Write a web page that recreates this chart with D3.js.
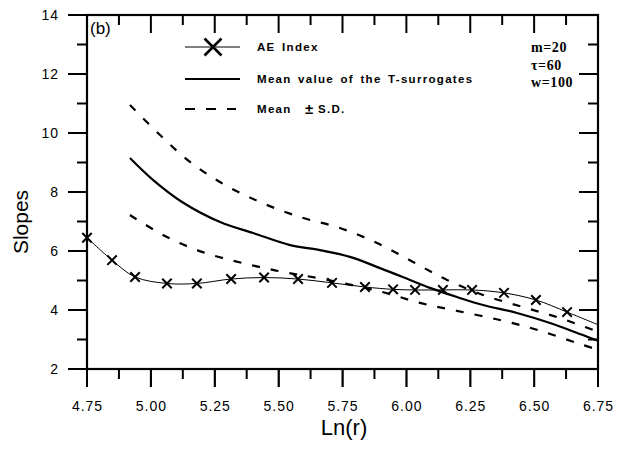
<!DOCTYPE html>
<html>
<head>
<meta charset="utf-8">
<script src="https://cdn.jsdelivr.net/npm/d3@7"></script>
<style>
    body { margin: 0; background: #fff; }
    .axis text { font-family: Arial, "Liberation Sans", sans-serif; font-size: 14px; letter-spacing: 1px; fill: #000; }
    .axis path.domain { display: none; }
    .legend text { font-family: Arial, "Liberation Sans", sans-serif; font-size: 11.5px; letter-spacing: 1.3px; word-spacing: 2px; font-weight: 600; }
    .params text { font-family: "Liberation Serif", "Times New Roman", serif; font-size: 14px; letter-spacing: 0.6px; font-weight: 600; }
</style>
</head>
<body>
<div id="chart" style="width:632px;height:449px"></div>
<script>
// AE Index (x markers) - last point is where the thin line ends, no marker there
const aeX = [4.75, 4.848, 4.938, 5.063, 5.18, 5.314, 5.443, 5.576, 5.709, 5.838, 5.948, 6.034, 6.143, 6.257, 6.382, 6.507, 6.629, 6.75]
const aeY = [6.45, 5.69, 5.12, 4.9, 4.9, 5.05, 5.1, 5.05, 4.92, 4.78, 4.7, 4.68, 4.68, 4.68, 4.58, 4.34, 3.93, 3.5]

// mean value of the T-surrogates
const meanX = [4.918, 5.008, 5.122, 5.271, 5.4, 5.545, 5.662, 5.779, 5.897, 6.014, 6.092, 6.198, 6.3, 6.433, 6.562, 6.691, 6.75]
const meanY = [9.15, 8.41, 7.66, 6.98, 6.61, 6.2, 6.03, 5.8, 5.42, 5.02, 4.75, 4.44, 4.17, 3.9, 3.56, 3.15, 2.96]

// mean + S.D.
const upperX = [4.918, 5.036, 5.153, 5.29, 5.435, 5.584, 5.74, 5.885, 6.026, 6.159, 6.3, 6.456, 6.601, 6.75]
const upperY = [10.95, 9.93, 9.02, 8.24, 7.63, 7.15, 6.78, 6.27, 5.63, 5.02, 4.51, 4.1, 3.73, 3.26]

// mean - S.D.
const lowerX = [4.918, 5.055, 5.2, 5.36, 5.517, 5.674, 5.905, 6.053, 6.198, 6.366, 6.515, 6.668, 6.75]
const lowerY = [7.22, 6.51, 5.97, 5.59, 5.29, 5.05, 4.61, 4.24, 3.97, 3.66, 3.32, 2.88, 2.65]

const xMajorTicks = [4.75, 5.00, 5.25, 5.50, 5.75, 6.00, 6.25, 6.50, 6.75]
const xMinorTicks = [4.875, 5.125, 5.375, 5.625, 5.875, 6.125, 6.375, 6.625]
const yMajorTicks = [2, 4, 6, 8, 10, 12, 14]
const yMinorTicks = [3, 5, 7, 9, 11, 13]

const legendLabels = ["AE Index", "Mean value of the T-surrogates", "Mean"]
const paramLabels = ["m=20", "\u03c4=60", "w=100"]

class SlopeChart {
    constructor(parentElement) {
        this.parentElement = parentElement
        this.initVis()
    }

    initVis() {
        let vis = this

        vis.margin = {top: 15, right: 34, bottom: 80, left: 87}
        vis.width = 632 - vis.margin.left - vis.margin.right
        vis.height = 449 - vis.margin.top - vis.margin.bottom

        vis.root = d3.select("#" + vis.parentElement).append("svg")
            .attr("width", 632)
            .attr("height", 449)
        vis.svg = vis.root.append("g")
            .attr("transform", `translate(${vis.margin.left}, ${vis.margin.top})`)

        vis.x = d3.scaleLinear().domain([4.75, 6.75]).range([0, vis.width])
        vis.y = d3.scaleLinear().domain([2, 14]).range([vis.height, 0])

        // tick labels from d3 axes
        vis.svg.append("g").attr("class", "axis")
            .attr("transform", `translate(0, ${vis.height})`)
            .call(d3.axisBottom(vis.x).tickValues(xMajorTicks).tickSize(18).tickPadding(14).tickFormat(d3.format(".2f")))
        vis.svg.append("g").attr("class", "axis")
            .call(d3.axisLeft(vis.y).tickValues(yMajorTicks).tickSize(19).tickPadding(9).tickFormat(d3.format("d")))

        // tick marks, drawn as thin filled rectangles
        // outward on bottom/left, inward on top/right
        let ticks = vis.svg.append("g").attr("class", "tick-marks").attr("fill", "#000")
        ;[[xMajorTicks, 18], [xMinorTicks, 10]].forEach(([vals, len]) => {
            vals.forEach(v => {
                ticks.append("rect").attr("x", vis.x(v) - 1).attr("y", vis.height).attr("width", 2).attr("height", len)
                ticks.append("rect").attr("x", vis.x(v) - 1).attr("y", 0).attr("width", 2).attr("height", len)
            })
        })
        ;[[yMajorTicks, 19], [yMinorTicks, 10]].forEach(([vals, len]) => {
            vals.forEach(v => {
                ticks.append("rect").attr("x", -len).attr("y", vis.y(v) - 1).attr("width", len).attr("height", 2)
                ticks.append("rect").attr("x", vis.width - len).attr("y", vis.y(v) - 1).attr("width", len).attr("height", 2)
            })
        })

        // frame
        vis.svg.append("rect")
            .attr("width", vis.width)
            .attr("height", vis.height)
            .attr("fill", "none")
            .attr("stroke", "#000")
            .attr("stroke-width", 2.2)

        // axis titles
        vis.root.append("text")
            .attr("x", 344).attr("y", 435)
            .attr("text-anchor", "middle")
            .attr("font-family", "Arial, 'Liberation Sans', sans-serif")
            .attr("font-size", 22)
            .text("Ln(r)")
        vis.root.append("text")
            .attr("transform", "translate(28, 222) rotate(-90)")
            .attr("text-anchor", "middle")
            .attr("font-family", "Arial, 'Liberation Sans', sans-serif")
            .attr("font-size", 21)
            .text("Slopes")

        vis.root.append("text")
            .attr("x", 90).attr("y", 34)
            .attr("font-family", "Arial, 'Liberation Sans', sans-serif")
            .attr("font-size", 17)
            .text("(b)")

        this.updateVis()
    }

    updateVis() {
        let vis = this

        let line = d3.line()
            .x(d => vis.x(d[0]))
            .y(d => vis.y(d[1]))
            .curve(d3.curveCatmullRom)

        let ae = d3.zip(aeX, aeY)
        let mean = d3.zip(meanX, meanY)
        let upper = d3.zip(upperX, upperY)
        let lower = d3.zip(lowerX, lowerY)

        vis.svg.append("path").datum(upper)
            .attr("fill", "none").attr("stroke", "#000").attr("stroke-width", 2.2)
            .attr("stroke-dasharray", "8,11")
            .attr("d", line)
        vis.svg.append("path").datum(lower)
            .attr("fill", "none").attr("stroke", "#000").attr("stroke-width", 2.2)
            .attr("stroke-dasharray", "8,11")
            .attr("d", line)
        vis.svg.append("path").datum(mean)
            .attr("fill", "none").attr("stroke", "#000").attr("stroke-width", 2.2)
            .attr("d", line)
        vis.svg.append("path").datum(ae)
            .attr("fill", "none").attr("stroke", "#000").attr("stroke-width", 1)
            .attr("d", line)

        let cross = d3.symbol().type(d3.symbolX).size(60)
        vis.svg.selectAll(".ae-marker")
            .data(ae.slice(0, -1))
            .enter().append("path")
            .attr("class", "ae-marker")
            .attr("transform", d => `translate(${vis.x(d[0])}, ${vis.y(d[1])})`)
            .attr("d", cross)
            .attr("fill", "none")
            .attr("stroke", "#000")
            .attr("stroke-width", 2)

        // legend
        let legend = vis.root.append("g").attr("class", "legend")
        let rowY = [47, 79, 109]
        legend.append("line").attr("x1", 185).attr("x2", 240).attr("y1", rowY[0]).attr("y2", rowY[0])
            .attr("stroke", "#000").attr("stroke-width", 1)
        legend.append("path")
            .attr("transform", `translate(213, ${rowY[0]})`)
            .attr("d", d3.symbol().type(d3.symbolX).size(190))
            .attr("fill", "none").attr("stroke", "#000").attr("stroke-width", 2.6)
        legend.append("line").attr("x1", 185).attr("x2", 240).attr("y1", rowY[1]).attr("y2", rowY[1])
            .attr("stroke", "#000").attr("stroke-width", 2)
        legend.append("line").attr("x1", 185).attr("x2", 236).attr("y1", rowY[2]).attr("y2", rowY[2])
            .attr("stroke", "#000").attr("stroke-width", 2)
            .attr("stroke-dasharray", "10,11")

        legend.selectAll(".legend-label")
            .data(legendLabels)
            .enter().append("text")
            .attr("class", "legend-label")
            .attr("x", 257)
            .attr("y", (d, i) => rowY[i] + 4)
            .text(d => d)

        legend.append("text").attr("x", 305).attr("y", rowY[2] + 5)
            .attr("font-weight", "bold").style("font-size", "15px").text("\u00b1")
        legend.append("text").attr("x", 318).attr("y", rowY[2] + 4).text("S.D.")

        // embedding parameters
        vis.root.append("g").attr("class", "params")
            .selectAll("text")
            .data(paramLabels)
            .enter().append("text")
            .attr("x", 531)
            .attr("y", (d, i) => 52 + i * 17.5)
            .text(d => d)
    }
}

new SlopeChart("chart")
</script>
</body>
</html>
